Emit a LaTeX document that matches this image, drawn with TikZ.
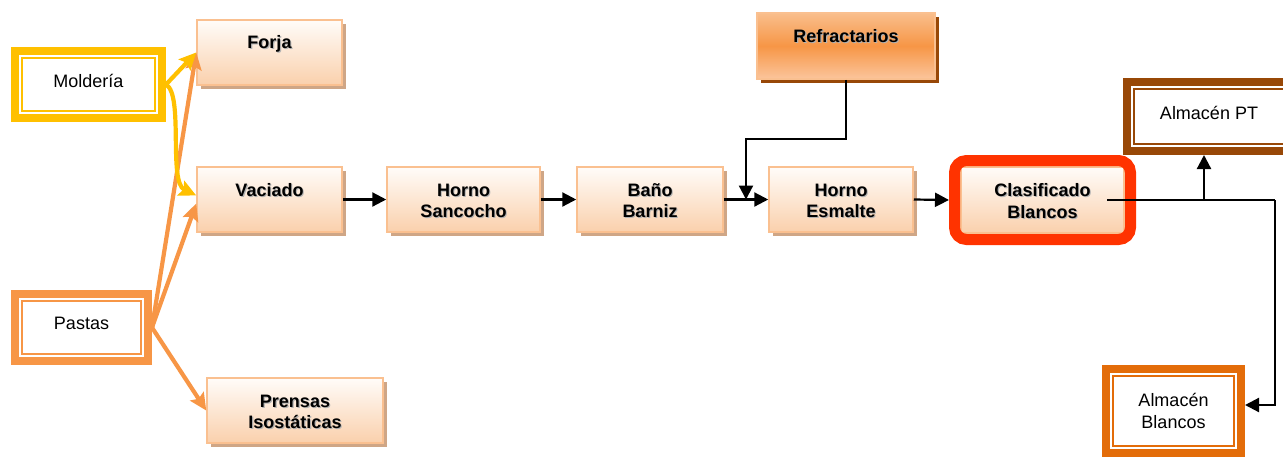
\documentclass[tikz,border=0pt]{standalone}
\usepackage{fontspec}
\setmainfont{Liberation Sans}
\usetikzlibrary{arrows.meta,calc,shadows}

\definecolor{gold}{HTML}{FFC000}
\definecolor{pastaor}{HTML}{F79646}
\definecolor{ptbrown}{HTML}{984807}
\definecolor{abor}{HTML}{E36C09}
\definecolor{clred}{HTML}{FF3300}
\definecolor{procline}{HTML}{FAC090}
\definecolor{proctop}{HTML}{FFFCF9}
\definecolor{procbot}{HTML}{FAD0AC}
\definecolor{procshadow}{HTML}{CFA686}
\definecolor{reftop}{HTML}{F9BE8C}
\definecolor{refmid}{HTML}{F79646}
\definecolor{refbot}{HTML}{FBC59C}

% bold step text with a soft grey shadow behind it
\newcommand\shd[1]{\rlap{\raisebox{-1.2pt}{\kern1.2pt\textcolor{black!30}{#1}}}#1}
% two text lines set on fixed struts, so every step box places its first line alike
\newcommand\linestrut{\rule[-2pt]{0pt}{19pt}}
\newcommand\twol[2]{\linestrut\shd{#1}\\\linestrut\shd{#2}}
% single line label sitting a little above the middle of its frame
\newcommand\upl[1]{\raisebox{4pt}[\height][\depth]{#1}}

\tikzset{
  stepbox/.style={rectangle, draw=procline, line width=1.5pt,
    top color=proctop, bottom color=procbot, inner sep=0pt, align=center,
    font=\fontsize{18}{21.5}\selectfont\bfseries,
    drop shadow={shadow xshift=3.5pt, shadow yshift=-3.5pt, fill=procshadow, opacity=1}},
  refbox/.style={stepbox, top color=reftop, bottom color=refbot, middle color=refmid,
    drop shadow={shadow xshift=4pt, shadow yshift=-4pt, fill=ptbrown, opacity=1}},
  srcbox/.style={rectangle, draw=#1, line width=8pt, fill=white, inner sep=0pt,
    align=center, font=\fontsize{18}{21.5}\selectfont},
  blk/.style={black, line width=2.2pt},
  flow/.style={blk, -{Triangle[length=14pt,width=14pt]}},
  feed/.style={draw=#1, line width=4.2pt, -{Stealth[length=17pt,width=16pt,inset=3pt]}}
}

\begin{document}
\begin{tikzpicture}[x=1pt,y=-1pt]
\useasboundingbox (0,0) rectangle (1283,456);
\clip (0,0) rectangle (1283,456);

% raw materials and stores (double framed)
\node[srcbox=gold,    minimum width=147, minimum height=67] (mold) at (88.5,84.5)   {\upl{Moldería}};
\node[srcbox=pastaor, minimum width=133, minimum height=67] (pas)  at (81.5,327.5)  {\upl{Pastas}};
\node[srcbox=ptbrown, minimum width=164, minimum height=69] (apt)  at (1209,116.5)  {\upl{Almacén PT}};
\node[srcbox=abor,    minimum width=135, minimum height=84] (ab)   at (1173.5,411)  {Almacén\\Blancos};
\foreach \n/\c in {mold/gold, pas/pastaor, apt/ptbrown, ab/abor}
  \draw[\c, line width=2pt] ($(\n.south west)+(11,-11)$) rectangle ($(\n.north east)+(-11,11)$);

% process steps
\node[stepbox, minimum width=145, minimum height=65] (forja) at (269.5,52.5)  {\twol{Forja}{}};
\node[stepbox, minimum width=145, minimum height=65] (vac)   at (269.5,199.5) {\twol{Vaciado}{}};
\node[stepbox, minimum width=176, minimum height=65] (pr)    at (295,410.5)   {\twol{Prensas}{Isostáticas}};
\node[stepbox, minimum width=153, minimum height=65] (hs)    at (463.5,199.5) {\twol{Horno}{Sancocho}};
\node[stepbox, minimum width=146, minimum height=65] (bb)    at (650,199.5)   {\twol{Baño}{Barniz}};
\node[stepbox, minimum width=144, minimum height=65] (he)    at (841,199.5)   {\twol{Horno}{Esmalte}};
\node[refbox,  minimum width=178, minimum height=66] (ref)   at (846,46)      {\twol{Refractarios}{}};
\node[stepbox, minimum width=163, minimum height=66, drop shadow={opacity=0}] (cli) at (1042.5,200) {\twol{Clasificado}{Blancos}};
\node[draw=clred, line width=11pt, rounded corners=12pt, minimum width=176, minimum height=79] (cl) at (1042.5,200) {};

% feeds from raw materials
\draw[feed=pastaor] (pas.east) -- (forja.west);
\draw[feed=pastaor] (pas.east) -- ([yshift=-4pt]vac.west);
\draw[feed=pastaor] (pas.east) -- (pr.west);
\draw[feed=gold] (mold.east) -- (forja.west);
\draw[feed=gold] (mold.east) .. controls (184,95) and (168,182) .. ([yshift=4pt]vac.west);

% main line
\draw[flow] (vac.east) -- (hs.west);
\draw[flow] (hs.east) -- (bb.west);
\draw[flow] (bb.east) -- (he.west);
\draw[flow] (he.east) -- (cl.west);
\coordinate (rj) at ($(bb.east)!0.5!(he.west)$);
\draw[flow] (ref.south) -- ++(0,59) -| (rj);

% outputs of sorting
\coordinate (cs) at ($(cl.east)+(-29,0)$);
\coordinate (cr) at (1275,200);
\coordinate (ptin) at ([xshift=-5pt]apt.south);
\draw[blk] (cs) -- (cr);
\draw[flow] (cr) |- ([yshift=6pt]ab.east);
\draw[flow] (ptin |- cs) -- (ptin);
\end{tikzpicture}
\end{document}
